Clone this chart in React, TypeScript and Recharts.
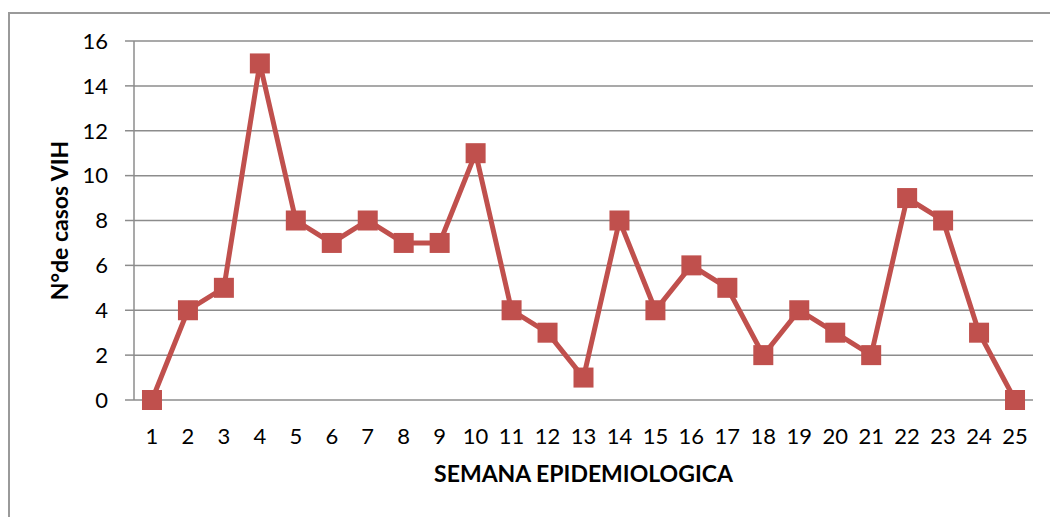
import { LineChart, Line, XAxis, YAxis, CartesianGrid, Label } from "recharts";

const weeks = [1, 2, 3, 4, 5, 6, 7, 8, 9, 10, 11, 12, 13, 14, 15, 16, 17, 18, 19, 20, 21, 22, 23, 24, 25];
const cases = [0, 4, 5, 15, 8, 7, 8, 7, 7, 11, 4, 3, 1, 8, 4, 6, 5, 2, 4, 3, 2, 9, 8, 3, 0];
const yTicks = [0, 2, 4, 6, 8, 10, 12, 14, 16];
const boundaryTicks = [0.5, 1.5, 2.5, 3.5, 4.5, 5.5, 6.5, 7.5, 8.5, 9.5, 10.5, 11.5, 12.5, 13.5, 14.5, 15.5, 16.5, 17.5, 18.5, 19.5, 20.5, 21.5, 22.5, 23.5, 24.5, 25.5];

const data = weeks.map((w, i) => ({ semana: w, casos: cases[i] }));

const FONT = "Lato, 'Liberation Sans', sans-serif";
const RED = "#C0504D";
const GRID = "#8c8c8c";

const SquareDot = (props: any) => {
  const { cx, cy, index } = props;
  if (cx == null || cy == null) return null;
  return <rect key={"d" + index} x={cx - 10} y={cy - 10} width={20} height={20} fill={RED} />;
};

export default function App() {
  return (
    <div style={{ position: "absolute", left: 0, top: 0, width: 1050, height: 517, overflow: "hidden", background: "#fff" }}>
      <div
        style={{
          position: "absolute",
          left: 8,
          top: 12,
          width: 1100,
          height: 600,
          border: "2px solid #9a9a9a",
        }}
      />
      <div style={{ position: "absolute", left: 0, top: 0 }}>
        <LineChart width={1050} height={517} data={data} margin={{ top: 41, right: 17, left: 0, bottom: 0 }}>
          <CartesianGrid horizontal vertical={false} stroke={GRID} strokeWidth={1.5} />
          <XAxis
            xAxisId="lbl"
            dataKey="semana"
            type="number"
            domain={[0.5, 25.5]}
            ticks={weeks}
            interval={0}
            height={117}
            axisLine={false}
            tickLine={false}
            tickSize={0}
            tickMargin={28}
            tick={{ fill: "#000", fontSize: 22, fontFamily: FONT }}
          >
            <Label
              value="SEMANA EPIDEMIOLOGICA"
              position="insideTop"
              offset={66}
              style={{ fill: "#000", fontSize: 23, fontWeight: 700, fontFamily: FONT }}
            />
          </XAxis>
          <XAxis
            xAxisId="b"
            dataKey="semana"
            type="number"
            domain={[0.5, 25.5]}
            ticks={boundaryTicks}
            interval={0}
            height={0}
            tick={false}
            tickSize={9}
            axisLine={{ stroke: GRID, strokeWidth: 1.5 }}
            tickLine={{ stroke: GRID, strokeWidth: 1.5 }}
          />
          <YAxis
            type="number"
            domain={[0, 16]}
            ticks={yTicks}
            interval={0}
            width={134}
            tickSize={9}
            tickMargin={17}
            axisLine={{ stroke: GRID, strokeWidth: 1.5 }}
            tickLine={{ stroke: GRID, strokeWidth: 1.5 }}
            tick={{ fill: "#000", fontSize: 22, fontFamily: FONT }}
          >
            <Label
              value="N°de casos VIH"
              angle={-90}
              position="insideLeft"
              offset={60}
              style={{ textAnchor: "middle", fill: "#000", fontSize: 23, fontWeight: 700, fontFamily: FONT }}
            />
          </YAxis>
          <Line
            xAxisId="lbl"
            dataKey="casos"
            type="linear"
            stroke={RED}
            strokeWidth={5}
            dot={<SquareDot />}
            activeDot={false}
            isAnimationActive={false}
          />
        </LineChart>
      </div>
    </div>
  );
}
